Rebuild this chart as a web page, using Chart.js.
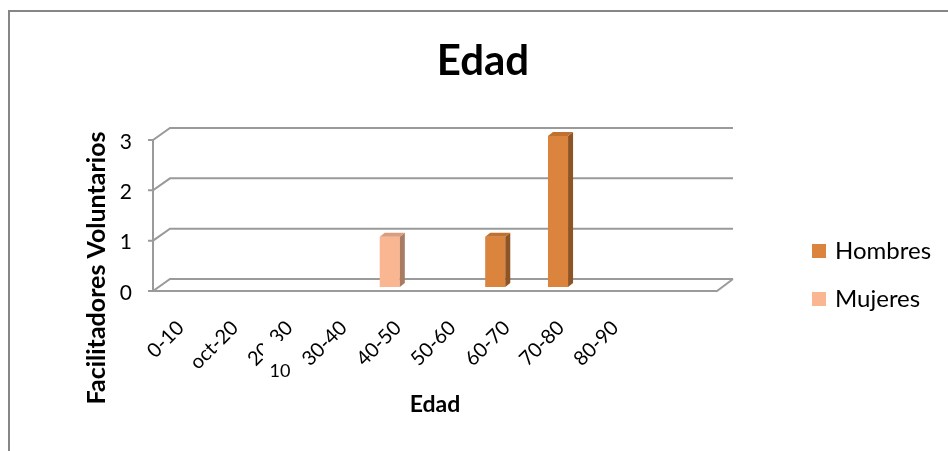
<!DOCTYPE html>
<html>
<head>
<meta charset="utf-8">
<script src="https://cdn.jsdelivr.net/npm/chart.js@4.4.0/dist/chart.umd.min.js"></script>
<style>
  html, body { margin: 0; padding: 0; background: #fff; }
  #wrap { position: relative; width: 948px; height: 451px; }
</style>
</head>
<body>
<div id="wrap"><canvas id="edad-chart" width="948" height="451"></canvas></div>
<script>
var categories = ['0-10', 'oct-20', '20-30', '30-40', '40-50', '50-60', '60-70', '70-80', '80-90'];
var hombres = [0, 0, 0, 0, 0, 1, 3, 0, 0];
var mujeres = [0, 0, 0, 1, 0, 0, 0, 0, 0];
var yTicks = [0, 1, 2, 3];

var fontFamily = 'Lato, "Open Sans", sans-serif';
var gridColor = '#9a9a9a';
var colors = {
  hombres: { front: '#db843e', side: '#8f5424', top: '#c0712f' },
  mujeres: { front: '#fab591', side: '#a87b62', top: '#d99e7f' }
};

// 3d look: walls, floor and the side/top faces of the columns
var frame3d = {
  id: 'frame3d',
  beforeDatasetsDraw: function(chart) {
    var ctx = chart.ctx;
    var a = chart.chartArea;
    var y = chart.scales.y;
    var fx = a.left - 7, bx = a.left + 10;
    var fxr = a.right - 8, bxr = a.right + 8;
    ctx.save();
    ctx.strokeStyle = gridColor;
    ctx.lineWidth = 2;
    ctx.beginPath();
    for (var i = 0; i < yTicks.length; i++) {
      var p = y.getPixelForValue(yTicks[i]);
      ctx.moveTo(fx - 5, p + 4);
      ctx.lineTo(fx, p + 4);
      ctx.lineTo(bx, p - 8);
      ctx.lineTo(bxr, p - 8);
    }
    var top = y.getPixelForValue(yTicks[yTicks.length - 1]) + 4;
    var f0 = y.getPixelForValue(0) + 4;
    var b0 = y.getPixelForValue(0) - 8;
    ctx.moveTo(fx, top);
    ctx.lineTo(fx, f0);
    ctx.lineTo(fxr, f0);
    ctx.lineTo(bxr, b0);
    ctx.stroke();
    ctx.restore();
  },
  afterDatasetsDraw: function(chart) {
    var ctx = chart.ctx;
    var dx = 5, dy = 4;
    ctx.save();
    chart.data.datasets.forEach(function(ds, di) {
      var c = ds.faces;
      chart.getDatasetMeta(di).data.forEach(function(bar, i) {
        if (!ds.data[i]) return;
        var p = bar.getProps(['x', 'y', 'base', 'width'], true);
        var l = p.x - p.width / 2, r = p.x + p.width / 2;
        ctx.fillStyle = c.side;
        ctx.beginPath();
        ctx.moveTo(r, p.y);
        ctx.lineTo(r + dx, p.y - dy);
        ctx.lineTo(r + dx, p.base - dy);
        ctx.lineTo(r, p.base);
        ctx.closePath();
        ctx.fill();
        ctx.fillStyle = c.top;
        ctx.beginPath();
        ctx.moveTo(l, p.y);
        ctx.lineTo(l + dx, p.y - dy);
        ctx.lineTo(r + dx, p.y - dy);
        ctx.lineTo(r, p.y);
        ctx.closePath();
        ctx.fill();
      });
    });
    ctx.restore();
  },
  afterDraw: function(chart) {
    var ctx = chart.ctx;
    ctx.save();
    ctx.fillStyle = '#000';
    // title
    ctx.textAlign = 'center';
    ctx.textBaseline = 'alphabetic';
    ctx.font = 'bold 42px ' + fontFamily;
    ctx.fillText('Edad', 483, 75);

    // axis titles
    ctx.textBaseline = 'middle';
    ctx.font = 'bold 23px ' + fontFamily;
    ctx.fillText('Edad', 435, 405);
    ctx.save();
    ctx.translate(97, 268);
    ctx.rotate(-Math.PI / 2);
    ctx.font = 'bold 25px ' + fontFamily;
    ctx.fillText('Facilitadores Voluntarios', 0, 0);
    ctx.restore();

    // legend
    ctx.textAlign = 'left';
    ctx.textBaseline = 'alphabetic';
    ctx.font = '24px ' + fontFamily;
    chart.data.datasets.forEach(function(ds, di) {
      var yy = 244 + di * 48;
      ctx.fillStyle = ds.backgroundColor;
      ctx.fillRect(812, yy, 14, 14);
      ctx.fillStyle = '#000';
      ctx.fillText(ds.label, 835, yy + 15);
    });

    // the box with "10" lying over the third label
    ctx.fillStyle = '#fff';
    ctx.fillRect(263, 341, 37, 45);
    ctx.fillStyle = '#000';
    ctx.font = '18px ' + fontFamily;
    ctx.textAlign = 'center';
    ctx.textBaseline = 'middle';
    ctx.fillText('10', 280, 371);

    // outer border
    ctx.strokeStyle = '#868686';
    ctx.lineWidth = 2;
    ctx.beginPath();
    ctx.moveTo(9, 451);
    ctx.lineTo(9, 11);
    ctx.lineTo(948, 11);
    ctx.stroke();
    ctx.restore();
  }
};

var ctx = document.getElementById('edad-chart').getContext('2d');
var edadChart = new Chart(ctx, {
  type: 'bar',
  data: {
    labels: categories,
    datasets: [
      { label: 'Hombres', data: hombres, backgroundColor: colors.hombres.front, faces: colors.hombres, xAxisID: 'x', yAxisID: 'y' },
      { label: 'Mujeres', data: mujeres, backgroundColor: colors.mujeres.front, faces: colors.mujeres, xAxisID: 'x', yAxisID: 'y' }
    ]
  },
  options: {
    responsive: false,
    animation: false,
    devicePixelRatio: 1,
    categoryPercentage: 0.64,
    barPercentage: 1,
    layout: { padding: { left: 80, right: 223, top: 136, bottom: 30 } },
    plugins: {
      legend: { display: false },
      title: { display: false },
      tooltip: { enabled: false }
    },
    scales: {
      x: { type: 'category', display: false },
      // labels sit closer together than the columns in the original, so they get their own axis
      xLab: {
        type: 'linear',
        axis: 'x',
        position: 'bottom',
        offset: false,
        min: -0.38,
        max: 10.02,
        bounds: 'data',
        grid: { display: false, drawTicks: false },
        border: { display: false },
        afterBuildTicks: function(s) {
          s.ticks = categories.map(function(c, i) { return { value: i }; });
        },
        afterFit: function(s) { s.height = 134; },
        ticks: {
          autoSkip: false,
          minRotation: 45,
          maxRotation: 45,
          padding: 29,
          color: '#000',
          font: { family: fontFamily, size: 20 },
          callback: function(v) { return categories[v] || ''; }
        }
      },
      y: {
        position: 'left',
        min: 0,
        max: 3,
        grid: { display: false, drawTicks: false },
        border: { display: false },
        afterBuildTicks: function(s) {
          s.ticks = yTicks.map(function(v) { return { value: v }; });
        },
        afterFit: function(s) { s.width = 80; },
        ticks: {
          padding: 28,
          labelOffset: 6,
          color: '#000',
          font: { family: fontFamily, size: 21 }
        }
      }
    }
  },
  plugins: [frame3d]
});
</script>
</body>
</html>
